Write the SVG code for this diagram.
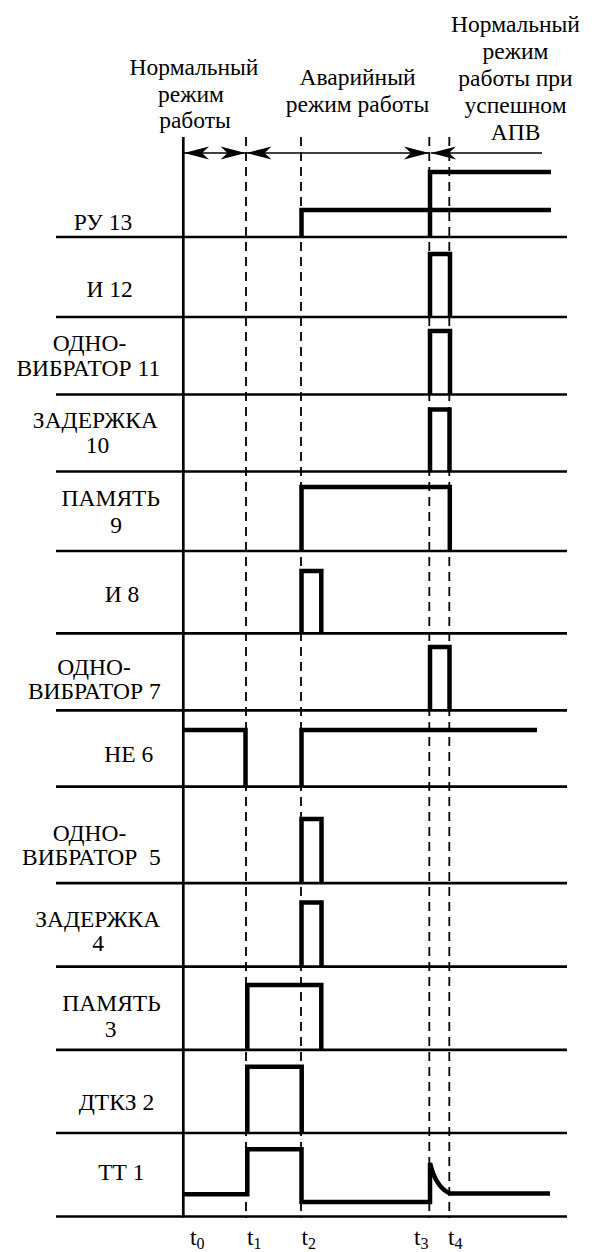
<svg xmlns="http://www.w3.org/2000/svg" width="596" height="1252" viewBox="0 0 596 1252">
<defs>
<style>
.t{font-family:"Liberation Serif","DejaVu Serif",serif;font-size:23.5px;fill:#000}
.c{text-anchor:middle}
.base{stroke:#000;stroke-width:2.7;fill:none}
.sig{stroke:#000;stroke-width:4.5;fill:none;stroke-linejoin:miter}
.dash{stroke:#000;stroke-width:1.8;stroke-dasharray:9 6;fill:none}
.dim{stroke:#000;stroke-width:1.3;fill:none}
.pre{white-space:pre}
</style>
<marker id="ah" viewBox="-26 -7 27 14" refX="0" refY="0" markerWidth="27" markerHeight="14" markerUnits="userSpaceOnUse" orient="auto-start-reverse">
<path d="M0,0 L-25,-6.5 L-18,0 L-25,6.5 Z" fill="#000"/>
</marker>
</defs>
<rect width="596" height="1252" fill="#fff"/>

<g id="headers" class="t" font-family="Liberation Serif, DejaVu Serif, serif">
<text class="c" x="194" y="75">Нормальный</text>
<text class="c" x="191" y="101.5">режим</text>
<text class="c" x="195" y="128">работы</text>
<text class="c" x="357.5" y="85">Аварийный</text>
<text class="c" x="357.5" y="111.5">режим работы</text>
<text class="c" x="515.5" y="31.5">Нормальный</text>
<text class="c" x="515.5" y="58.5">режим</text>
<text class="c" x="515.5" y="85.5">работы при</text>
<text class="c" x="515.5" y="112.5">успешном</text>
<text class="c" x="515.5" y="139.5">АПВ</text>
</g>

<g id="grid">
<line class="base" x1="183.3" y1="137" x2="183.3" y2="1217.5"/>
<line class="dash" x1="246" y1="137" x2="246" y2="1218"/>
<line class="dash" x1="301" y1="137" x2="301" y2="1218"/>
<line class="dash" x1="429.3" y1="137" x2="429.3" y2="1218"/>
<line class="dash" x1="449.3" y1="137" x2="449.3" y2="1218"/>
<path class="base" d="M56,237H567 M56,317H567 M56,394.5H567 M56,471.5H567 M56,551H567 M56,633.3H567 M56,710.3H567 M56,786.7H567 M56,883.2H567 M56,966.6H567 M56,1049.8H567 M56,1133H567 M56,1216.5H567"/>
</g>

<g id="connectors">
<line class="dim" x1="184" y1="153" x2="245.5" y2="153" marker-start="url(#ah)" marker-end="url(#ah)"/>
<line class="dim" x1="246.5" y1="153" x2="429" y2="153" marker-start="url(#ah)" marker-end="url(#ah)"/>
<line class="dim" x1="431" y1="153" x2="542" y2="153" marker-start="url(#ah)"/>
</g>

<g class="t" font-family="Liberation Serif, DejaVu Serif, serif">
<g id="row-ru13">
<text class="c" x="103" y="230">РУ 13</text>
<path class="sig" d="M301.5,237V210H551 M430,237V172H551"/>
</g>
<g id="row-i12">
<text class="c" x="109.7" y="297.3">И 12</text>
<path class="sig" d="M430,317V254H450V317"/>
</g>
<g id="row-ov11">
<text class="c" x="89.5" y="351">ОДНО-</text>
<text class="c" x="88.3" y="376">ВИБРАТОР 11</text>
<path class="sig" d="M430,394.5V331H450V394.5"/>
</g>
<g id="row-z10">
<text class="c" x="95.4" y="428.3">ЗАДЕРЖКА</text>
<text class="c" x="97.5" y="453.3">10</text>
<path class="sig" d="M430,471.5V409.5H449.5V471.5"/>
</g>
<g id="row-p9">
<text class="c" x="110.8" y="506">ПАМЯТЬ</text>
<text class="c" x="116" y="533.3">9</text>
<path class="sig" d="M301.5,551V487H449.8V551"/>
</g>
<g id="row-i8">
<text class="c" x="122" y="601.7">И 8</text>
<path class="sig" d="M301.5,633.3V571H321.3V633.3"/>
</g>
<g id="row-ov7">
<text class="c" x="94" y="675">ОДНО-</text>
<text class="c" x="94.3" y="699">ВИБРАТОР 7</text>
<path class="sig" d="M430,710.3V647H449.5V710.3"/>
</g>
<g id="row-ne6">
<text class="c" x="128.7" y="761.5">НЕ 6</text>
<path class="sig" d="M183,730H245.5V786.7 M301.5,786.7V730H537"/>
</g>
<g id="row-ov5">
<text class="c" x="89.6" y="841">ОДНО-</text>
<text class="c pre" x="91.4" y="865" xml:space="preserve">ВИБРАТОР  5</text>
<path class="sig" d="M301.5,883.2V819H321.5V883.2"/>
</g>
<g id="row-z4">
<text class="c" x="97.7" y="927">ЗАДЕРЖКА</text>
<text class="c" x="98" y="951">4</text>
<path class="sig" d="M301.5,966.6V902.5H321.5V966.6"/>
</g>
<g id="row-p3">
<text class="c" x="111.5" y="1010.5">ПАМЯТЬ</text>
<text class="c" x="110.7" y="1036.7">3</text>
<path class="sig" d="M247.3,1049.8V985H321.3V1049.8"/>
</g>
<g id="row-dtkz2">
<text class="c" x="116.5" y="1110">ДТКЗ 2</text>
<path class="sig" d="M247.3,1133V1066.7H301.7V1133"/>
</g>
<g id="row-tt1">
<text class="c" x="121.3" y="1180">ТТ 1</text>
<path class="sig" d="M183,1194.3H247.3V1149.3H301.5V1202H430V1163C434,1180 440,1189 449.8,1193.4H550"/>
</g>
</g>

<g id="time-labels" class="t" font-family="Liberation Serif, DejaVu Serif, serif">
<text x="190" y="1245">t<tspan font-size="16" dy="4">0</tspan></text>
<text x="247" y="1245">t<tspan font-size="16" dy="4">1</tspan></text>
<text x="301.5" y="1245">t<tspan font-size="16" dy="4">2</tspan></text>
<text x="414" y="1245">t<tspan font-size="16" dy="4">3</tspan></text>
<text x="448" y="1245">t<tspan font-size="16" dy="4">4</tspan></text>
</g>
</svg>
